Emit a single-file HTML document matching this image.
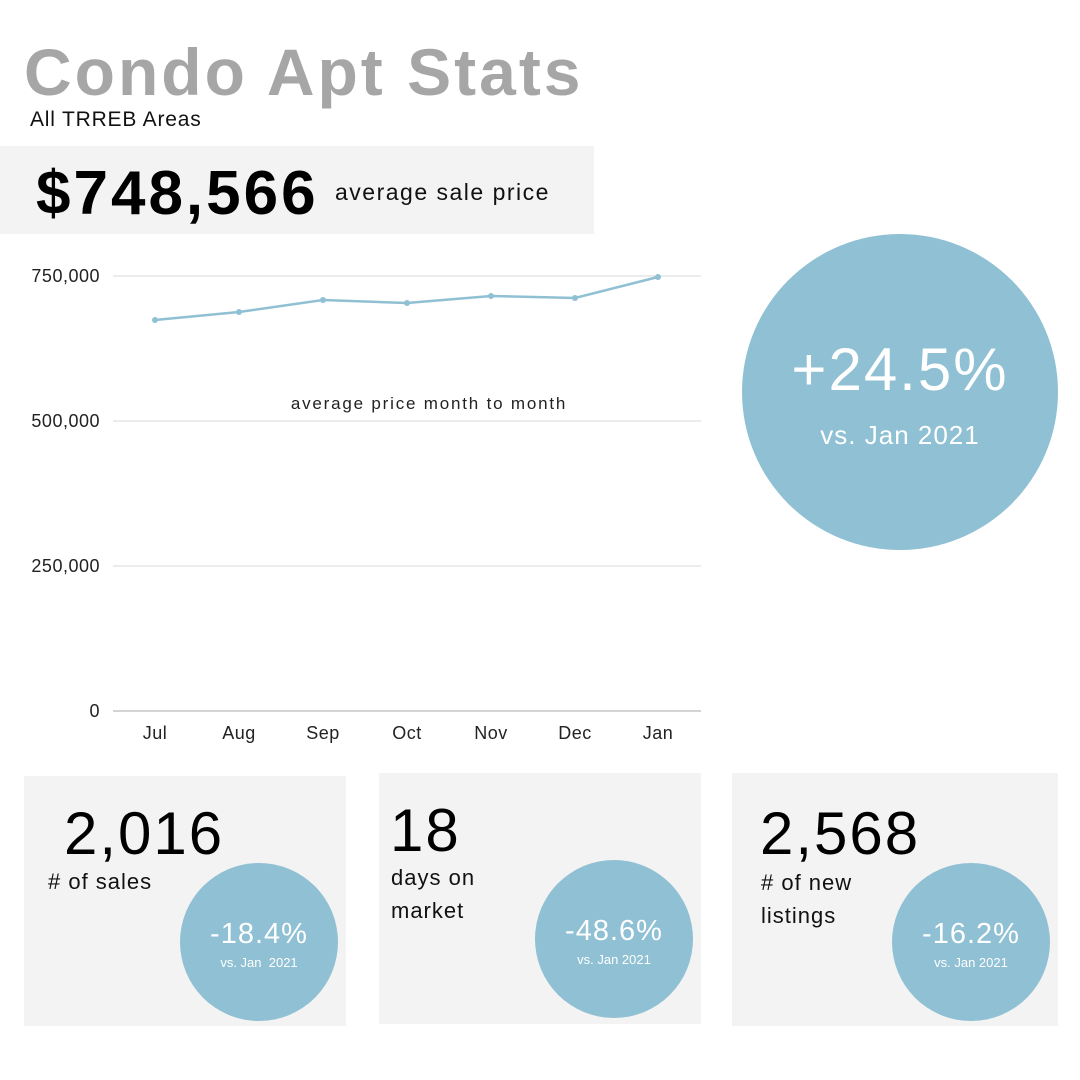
<!DOCTYPE html>
<html><head><meta charset="utf-8"><style>
body{margin:0;width:1080px;height:1080px;background:#fff;position:relative;overflow:hidden;font-family:"Liberation Sans",sans-serif;}
.a{position:absolute;white-space:nowrap;}
.box{position:absolute;background:#f3f3f3;}
.c{position:absolute;border-radius:50%;background:#8fc0d3;color:#fff;text-align:center;}
</style></head><body>
<div class="a" style="left:24px;top:32px;font-size:66px;font-weight:bold;color:#a6a6a6;letter-spacing:3px;line-height:80px;">Condo Apt Stats</div>
<div class="a" style="left:30px;top:107px;font-size:21px;color:#111;line-height:26px;letter-spacing:0.8px;">All TRREB Areas</div>
<div class="box" style="left:0;top:146px;width:594px;height:88px;"></div>
<div class="a" style="left:36px;top:158px;font-size:62px;font-weight:bold;color:#000;line-height:72px;letter-spacing:3px;">$748,566</div>
<div class="a" style="left:335px;top:178px;font-size:23px;color:#111;line-height:28px;letter-spacing:1.5px;">average sale price</div>
<svg class="a" style="left:0;top:0" width="1080" height="1080">
<g stroke="#d8d8d8" stroke-width="1"><line x1="113" x2="701" y1="276" y2="276"/><line x1="113" x2="701" y1="421" y2="421"/><line x1="113" x2="701" y1="566" y2="566"/></g>
<line x1="113" x2="701" y1="711" y2="711" stroke="#aaa"/>
<g font-family="Liberation Sans" font-size="18" fill="#222" text-anchor="end" letter-spacing="0.5"><text x="100" y="282">750,000</text><text x="100" y="427">500,000</text><text x="100" y="572">250,000</text><text x="100" y="717">0</text></g>
<g font-family="Liberation Sans" font-size="18" fill="#222" text-anchor="middle" letter-spacing="0.5"><text x="155" y="739">Jul</text><text x="239" y="739">Aug</text><text x="323" y="739">Sep</text><text x="407" y="739">Oct</text><text x="491" y="739">Nov</text><text x="575" y="739">Dec</text><text x="658" y="739">Jan</text>
<text x="429" y="409" font-size="17" letter-spacing="1.8">average price month to month</text></g>
<polyline fill="none" stroke="#8fc0d3" stroke-width="2.5" points="155,320 239,312 323,300 407,303 491,296 575,298 658,277"/>
<g fill="#8fc0d3"><circle cx="155" cy="320" r="3"/><circle cx="239" cy="312" r="3"/><circle cx="323" cy="300" r="3"/><circle cx="407" cy="303" r="3"/><circle cx="491" cy="296" r="3"/><circle cx="575" cy="298" r="3"/><circle cx="658" cy="277" r="3"/></g>
</svg>
<div class="c" style="left:742px;top:234px;width:316px;height:316px;">
<div style="position:absolute;left:0;right:0;top:104px;font-size:60px;line-height:64px;letter-spacing:2px;">+24.5%</div>
<div style="position:absolute;left:0;right:0;top:186px;font-size:26px;line-height:30px;letter-spacing:1px;">vs. Jan 2021</div></div>

<div class="box" style="left:24px;top:776px;width:322px;height:250px;"></div>
<div class="box" style="left:379px;top:773px;width:322px;height:251px;"></div>
<div class="box" style="left:732px;top:773px;width:326px;height:253px;"></div>

<div class="a" style="left:64px;top:800px;font-size:60px;line-height:68px;letter-spacing:2px;">2,016</div>
<div class="a" style="left:48px;top:868px;font-size:22px;line-height:28px;color:#111;letter-spacing:1px;"># of sales</div>
<div class="a" style="left:390px;top:797px;font-size:60px;line-height:68px;letter-spacing:2px;">18</div>
<div class="a" style="left:391px;top:861px;font-size:22px;line-height:33px;color:#111;letter-spacing:1px;">days on<br>market</div>
<div class="a" style="left:760px;top:800px;font-size:60px;line-height:68px;letter-spacing:2px;">2,568</div>
<div class="a" style="left:761px;top:866px;font-size:22px;line-height:33px;color:#111;letter-spacing:1px;"># of new<br>listings</div>

<div class="c" style="left:180px;top:863px;width:158px;height:158px;"><div style="position:absolute;left:0;right:0;top:54px;font-size:29px;line-height:34px;letter-spacing:1px;">-18.4%</div><div style="position:absolute;left:0;right:0;top:92px;font-size:13px;">vs. Jan&nbsp; 2021</div></div>
<div class="c" style="left:535px;top:860px;width:158px;height:158px;"><div style="position:absolute;left:0;right:0;top:54px;font-size:29px;line-height:34px;letter-spacing:1px;">-48.6%</div><div style="position:absolute;left:0;right:0;top:92px;font-size:13px;">vs. Jan 2021</div></div>
<div class="c" style="left:892px;top:863px;width:158px;height:158px;"><div style="position:absolute;left:0;right:0;top:54px;font-size:29px;line-height:34px;letter-spacing:1px;">-16.2%</div><div style="position:absolute;left:0;right:0;top:92px;font-size:13px;">vs. Jan 2021</div></div>
</body></html>
